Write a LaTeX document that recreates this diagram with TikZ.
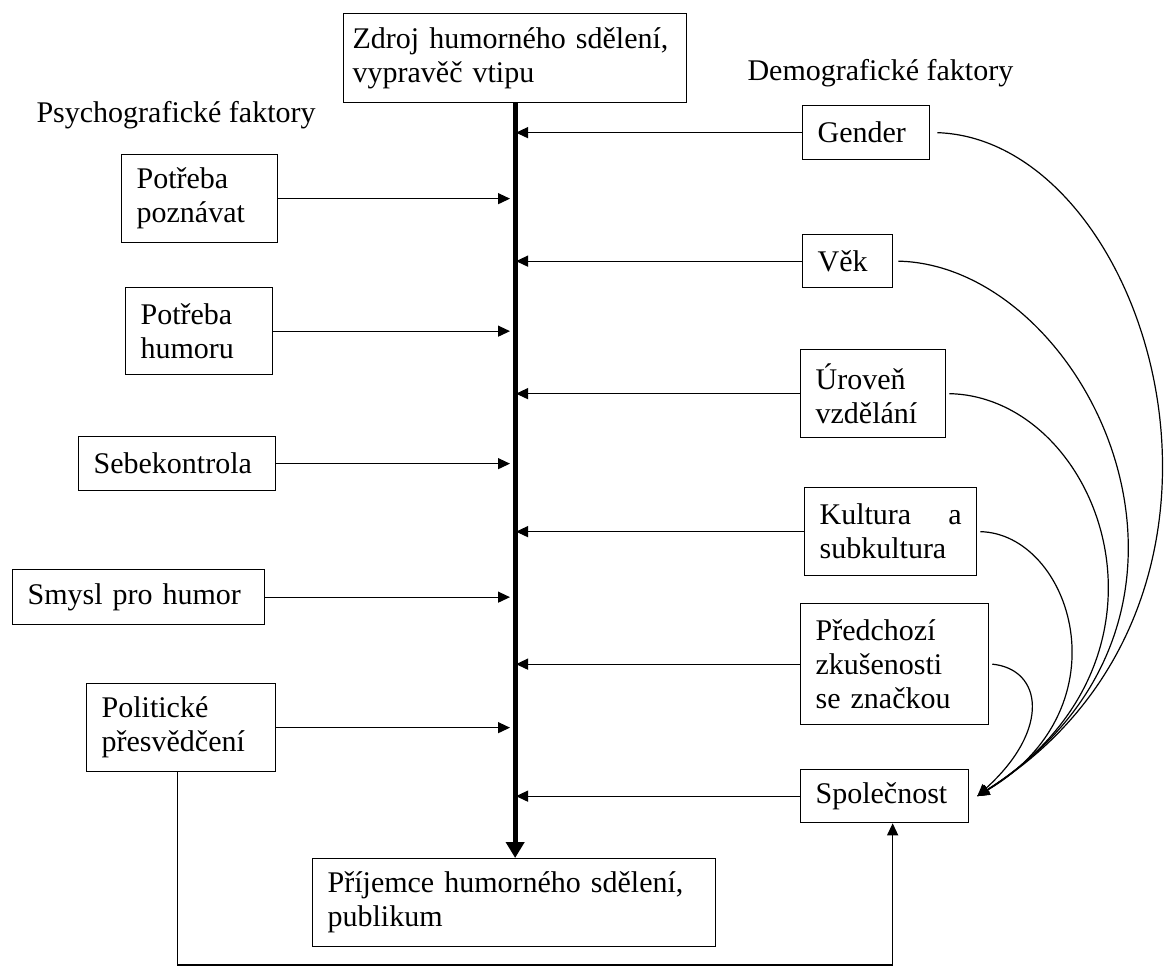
\documentclass[tikz,border=0pt]{standalone}
\usepackage{fontspec}
\setmainfont{Liberation Serif}
\usetikzlibrary{arrows.meta}

\begin{document}
\begin{tikzpicture}[x=1pt,y=1pt,
  every node/.style={font=\fontsize{30}{34}\selectfont},
  fbox/.style={draw, line width=1.3pt, anchor=north west, align=left, inner xsep=15pt, inner ysep=0pt},
  arr/.style={line width=1.2pt, -{Triangle[length=12pt,width=11pt]}},
  spine/.style={line width=5pt, -{Triangle[length=16pt,width=18pt]}}]
\useasboundingbox (0,0) rectangle (1168,-972);
\node [fbox, inner xsep=9pt, text width=325, minimum height=89] (zdroj) at (343,-13) {Zdroj humorného sdělení,\\vypravěč vtipu};
\node [fbox, text width=373, minimum height=88] (prij) at (312,-858) {Příjemce humorného sdělení,\\publikum};
\node [anchor=west] (psych) at (33,-115) {Psychografické faktory};
\node [anchor=west] (demog) at (744,-73) {Demografické faktory};
\node [fbox, text width=126, minimum height=88] (pp) at (121,-154) {Potřeba\\poznávat};
\node [fbox, text width=117, minimum height=87] (ph) at (125,-287) {Potřeba\\humoru};
\node [fbox, text width=167, minimum height=54] (sk) at (78,-436) {Sebekontrola};
\node [fbox, text width=222, minimum height=55] (sh) at (12,-569) {Smysl pro humor};
\node [fbox, text width=159, minimum height=88] (pol) at (86,-683) {Politické\\přesvědčení};
\node [fbox, text width=97, minimum height=54] (gen) at (802,-105) {Gender};
\node [fbox, text width=60, minimum height=53] (vek) at (802,-234) {Věk};
\node [fbox, text width=115, minimum height=88] (urov) at (800,-349) {Úroveň\\vzdělání};
\node [fbox, text width=142, minimum height=88] (kult) at (804,-487) {Kultura\hfill a\\subkultura};
\node [fbox, text width=158, minimum height=121] (pred) at (800,-603) {Předchozí\\zkušenosti\\se značkou};
\node [fbox, text width=138, minimum height=53] (spol) at (800,-769) {Společnost};
\coordinate (spl) at (510,0);
\coordinate (spr) at (516,0);
\coordinate (hub) at ([xshift=8pt]spol.east);
\coordinate (low) at (0,-965);
\draw [spine] (zdroj.south) -- (zdroj.south |- prij.north);
\foreach \n in {pp,ph,sk,sh,pol}
  \draw [arr] (\n.east) -- (\n.east -| spl);
\foreach \n in {gen,vek,urov,kult,pred,spol}
  \draw [arr] (\n.west) -- (\n.west -| spr);
\draw [arr] ([xshift=7pt]gen.east) .. controls +(213,-7) and +(314,197) .. (hub);
\draw [arr] ([xshift=5pt]vek.east) .. controls +(190,-4) and +(281,180) .. (hub);
\draw [arr] ([xshift=3pt]urov.east) .. controls +(150,-3) and +(221,140) .. (hub);
\draw [arr] ([xshift=3pt]kult.east) .. controls +(90,-2) and +(151,90) .. (hub);
\draw [arr] ([xshift=3pt]pred.east) .. controls +(50,-5) and +(74,67) .. (hub);
\draw [arr] ([xshift=-4pt]pol.south) -- ([xshift=-4pt]pol.south |- low) -| ([xshift=8pt]spol.south);
\end{tikzpicture}
\end{document}
